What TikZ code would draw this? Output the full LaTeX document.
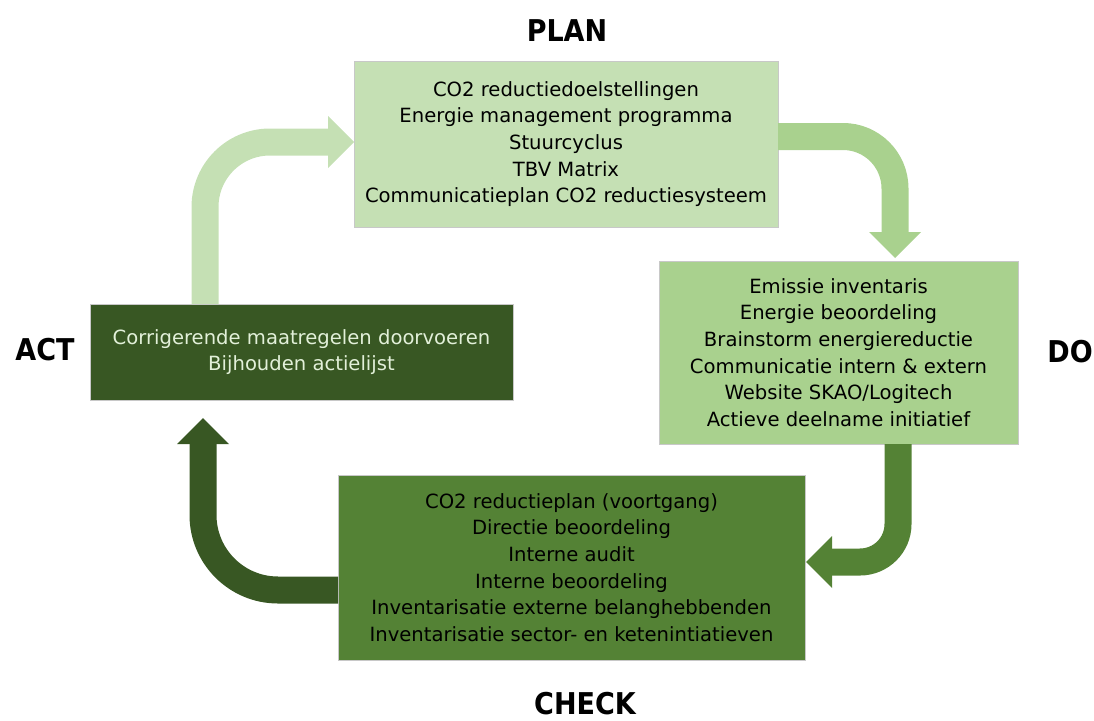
\documentclass[tikz,border=0pt]{standalone}
\usepackage{fontspec}
\setmainfont{DejaVu Sans}
\newfontfamily\headfont{DejaVu Sans Condensed}
\usetikzlibrary{arrows.meta,calc}
\definecolor{planc}{HTML}{C5E0B4}
\definecolor{doc}{HTML}{A9D18E}
\definecolor{checkc}{HTML}{548235}
\definecolor{actc}{HTML}{385723}
\definecolor{acttext}{HTML}{E2F0D9}
\definecolor{edgec}{HTML}{C8C8C8}
\begin{document}
\begin{tikzpicture}[x=1pt,y=-1pt,
  box/.style={rectangle, draw=edgec, line width=0.8pt, outer sep=0pt, align=center, inner sep=0pt,
    font=\fontsize{19.6}{26.6}\selectfont},
  phase/.style={font=\headfont\fontsize{30}{34}\selectfont\bfseries},
  flow/.style={line width=27pt, -{Triangle[length=26pt,width=52pt,line width=0pt]}}
]
\useasboundingbox (0,0) rectangle (1094,720);

\node[box, fill=planc, minimum width=424pt, minimum height=166pt] (plan) at (566,144)
  {CO2 reductiedoelstellingen\\Energie management programma\\Stuurcyclus\\TBV Matrix\\Communicatieplan CO2 reductiesysteem};
\node[box, fill=doc, minimum width=359pt, minimum height=183pt] (do) at (838.5,352.5)
  {Emissie inventaris\\Energie beoordeling\\Brainstorm energiereductie\\Communicatie intern \& extern\\Website SKAO/Logitech\\Actieve deelname initiatief};
\node[box, fill=checkc, minimum width=467pt, minimum height=185pt] (check) at (571.5,567.5)
  {CO2 reductieplan (voortgang)\\Directie beoordeling\\Interne audit\\Interne beoordeling\\Inventarisatie externe belanghebbenden\\Inventarisatie sector- en ketenintiatieven};
\node[box, fill=actc, text=acttext, minimum width=423pt, minimum height=96pt] (act) at (301.5,352)
  {Corrigerende maatregelen doorvoeren\\Bijhouden actielijst};

\node[phase] (planlbl) at (567,31) {PLAN};
\node[phase] (dolbl) at (1070,352) {DO};
\node[phase] (checklbl) at (585,704) {CHECK};
\node[phase] (actlbl) at (45,350) {ACT};

\coordinate (a1) at ($(act.north west)+(115,0)$);
\coordinate (a2) at ($(plan.north west)+(0,81)$);
\coordinate (b1) at ($(plan.north east)+(0,75.5)$);
\coordinate (b2) at ($(do.north west)+(236,-3)$);
\coordinate (c1) at ($(do.south west)+(239,0)$);
\coordinate (c2) at ($(check.north east)+(1,87)$);
\coordinate (d1) at ($(check.north west)+(0,115)$);
\coordinate (d2) at ($(act.south west)+(113,18)$);

\draw[flow, draw=planc, rounded corners=65pt] (a1) |- (a2);
\draw[flow, draw=doc, rounded corners=52pt] (b1) -| (b2);
\draw[flow, draw=checkc, rounded corners=38pt] (c1) |- (c2);
\draw[flow, draw=actc, rounded corners=75pt] (d1) -| (d2);
\end{tikzpicture}
\end{document}
